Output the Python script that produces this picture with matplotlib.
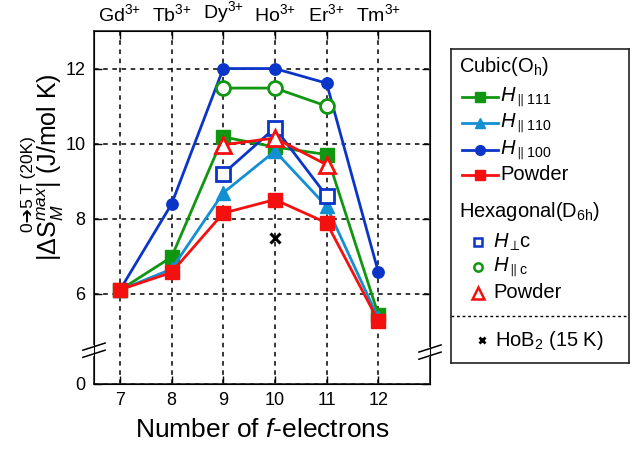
import numpy as np
import matplotlib
matplotlib.use('Agg')
import matplotlib.pyplot as plt
from matplotlib.lines import Line2D
import matplotlib.transforms as mtransforms

plt.rcParams['font.family'] = ['Liberation Sans', 'DejaVu Sans']
plt.rcParams['mathtext.fontset'] = 'custom'
plt.rcParams['mathtext.rm'] = 'Liberation Sans'
plt.rcParams['mathtext.it'] = 'Liberation Sans:italic'
plt.rcParams['mathtext.bf'] = 'Liberation Sans:bold'
plt.rcParams['mathtext.sf'] = 'Liberation Sans'
plt.rcParams['mathtext.fallback'] = 'stixsans'

# ---------------- data ----------------
n_f = [7, 8, 9, 10, 11, 12]
ions = ['Gd$^{3{+}}$', 'Tb$^{3{+}}$', 'Dy$^{3{+}}$', 'Ho$^{3{+}}$', 'Er$^{3{+}}$', 'Tm$^{3{+}}$']

# cubic (Oh)
cub_111 = [6.10, 6.98, 10.18, 9.91, 9.71, 5.45]
cub_110 = [6.10, 6.66, 8.69, 9.80, 8.33, 5.35]
cub_100 = [6.10, 8.39, 12.00, 12.00, 11.61, 6.58]
cub_powder = [6.11, 6.57, 8.15, 8.51, 7.89, 5.28]

# hexagonal (D6h), only f9-f11
hex_n = [9, 10, 11]
hex_perp = [9.20, 10.42, 8.61]
hex_par = [11.48, 11.48, 11.00]
hex_powder = [9.97, 10.15, 9.44]

# HoB2 at 15 K
hob2_n = [10]
hob2_val = [7.48]

y_ticks = [3.6, 6, 8, 10, 12]
y_ticklabels = ['0', '6', '8', '10', '12']

green = '#119611'
lblue = '#138fd4'
blue = '#0a35c8'
red = '#f51010'

fig = plt.figure(figsize=(6.4, 4.5), dpi=100)
ax = fig.add_axes([94/640, 1-384/450, 336/640, 353/450])

ax.plot(n_f, cub_111, '-s', color=green, lw=2, ms=9.4, zorder=3)
ax.plot(n_f, cub_110, '-^', color=lblue, lw=2, ms=10, zorder=3)
ax.plot(n_f, cub_100, '-o', color=blue, lw=2, ms=8.2, zorder=3)
ax.plot(hex_n, hex_par, '-o', color=green, lw=2, ms=10, mfc='white', mew=2, zorder=4)
ax.plot(hex_n, hex_perp, '-s', color=blue, lw=2, ms=9.6, mfc='white', mew=2, zorder=4)
ax.plot(hex_n, hex_powder, '-^', color=red, lw=2, ms=11, mfc='white', mew=2, zorder=4)
ax.plot(n_f, cub_powder, '-s', color=red, lw=2, ms=9.4, zorder=5)
ax.plot(hob2_n, hob2_val, 'x', color='black', ms=6.5, mew=2.2, zorder=5)

ax.set_xlim(6.5, 13)
ax.set_ylim(3.6, 13)
ax.set_xticks(n_f)
ax.set_yticks(y_ticks)
ax.set_yticklabels(y_ticklabels)
ax.tick_params(direction='in', length=6, width=1, labelsize=13, right=True, pad=6)
ax.grid(True, color='black', linestyle=(0, (3, 3)), lw=1.1)
for s in ax.spines.values():
    s.set_linewidth(1.2)
    s.set_color('#222222')

ax2 = ax.twiny()
ax2.set_xlim(ax.get_xlim())
ax2.set_xticks(n_f)
ax2.set_xticklabels(ions)
ax2.tick_params(direction='in', length=6, width=1, labelsize=14, pad=4)

ax.set_xlabel('Number of $f$-electrons', fontsize=19, labelpad=6)

# y label in two lines
fig.text(51/640, 1-167/450, r'$|\Delta\mathrm{S}_{M}^{max}|$ (J/mol K)', rotation=90,
         fontsize=18, ha='center', va='center')
fig.text(29/640, 1-184/450, '0\u27945 T (20K)', rotation=90,
         fontsize=12.5, ha='center', va='center')

# axis break marks
for xa, yc in [(0, 4.5), (1, 4.45)]:
    tr = mtransforms.blended_transform_factory(ax.transAxes, ax.transData)
    ax.plot([xa, xa], [yc - 0.09, yc + 0.09], color='white', lw=3, transform=tr,
            clip_on=False, zorder=10)
    for dy in (-0.095, 0.095):
        ax.plot([xa - 0.033, xa + 0.033], [yc + dy - 0.095, yc + dy + 0.095],
                color='black', lw=1.1, transform=tr, clip_on=False, zorder=11)

# ---------------- legend box ----------------
lg = fig.add_axes([451/640, 1-363/450, 178/640, 314/450])
lg.set_xlim(0, 178)
lg.set_ylim(314, 0)
lg.set_xticks([])
lg.set_yticks([])
for s in lg.spines.values():
    s.set_linewidth(1.2)
    s.set_color('#222222')

fs = 14.5
lg.text(8, 18, 'Cubic(O$_\\mathrm{h}$)', fontsize=fs, va='center', ha='left')
cub_entries = [(48, green, 's', r'$H_{\parallel\mathit{111}}$'),
               (74, lblue, '^', r'$H_{\parallel\mathit{110}}$'),
               (101, blue, 'o', r'$H_{\parallel\mathit{100}}$'),
               (126, red, 's', 'Powder')]
for yy, c, m, lab in cub_entries:
    lg.add_line(Line2D([11, 47], [yy, yy], color=c, lw=2))
    lg.plot([29], [yy], m, color=c, ms=7)
    lg.text(49, yy, lab, fontsize=fs, va='center', ha='left')

lg.text(8, 163, 'Hexagonal(D$_\\mathrm{6h}$)', fontsize=fs, va='center', ha='left')
hex_entries = [(193, blue, 's', r'$H_{\perp}\!$c', 6),
               (218, green, 'o', r'$H_{\parallel\mathrm{c}}$', 6),
               (244, red, '^', 'Powder', 8)]
for yy, c, m, lab, ms in hex_entries:
    lg.plot([27], [yy], m, color=c, ms=ms, mfc='white', mew=1.8)
    lg.text(42, yy, lab, fontsize=fs, va='center', ha='left')

lg.add_line(Line2D([0, 178], [267, 267], color='black', lw=1, linestyle=(0, (2, 2))))
lg.plot([31], [291], 'x', color='black', ms=5, mew=2)
lg.text(44, 291, 'HoB$_2$ (15 K)', fontsize=fs, va='center', ha='left')

fig.savefig('out.png', dpi=100)
